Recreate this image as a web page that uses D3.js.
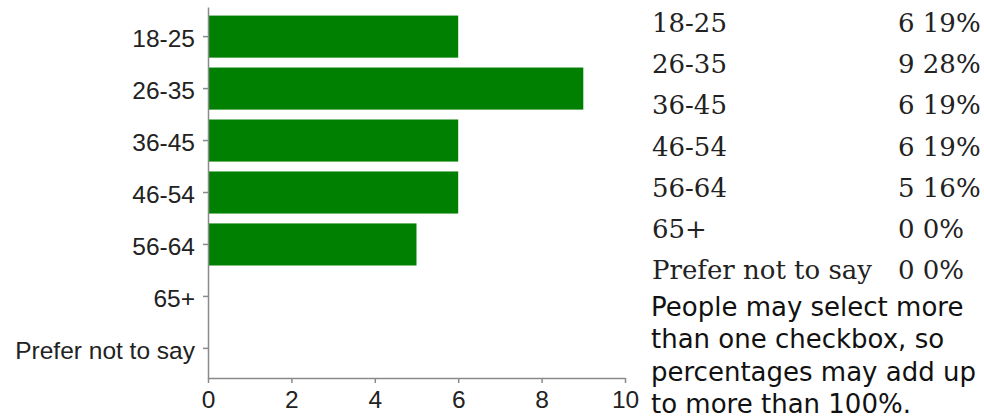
<!DOCTYPE html>
<html>
<head>
<meta charset="utf-8">
<script src="https://cdn.jsdelivr.net/npm/d3@7"></script>
<style>
  body { margin: 0; background: #fff; }
  svg { display: block; }
</style>
</head>
<body>
<svg id="chart" width="984" height="418"></svg>
<script>
const categories = ["18-25", "26-35", "36-45", "46-54", "56-64", "65+", "Prefer not to say"];
const counts = [6, 9, 6, 6, 5, 0, 0];
const percents = [19, 28, 19, 19, 16, 0, 0];
const xTicks = [0, 2, 4, 6, 8, 10];
const noteLines = ["People may select more", "than one checkbox, so", "percentages may add up", "to more than 100%."];

const svg = d3.select("#chart");

const x = d3.scaleLinear().domain([0, 10]).range([208, 625]);
const y = d3.scaleBand().domain(categories).range([7, 378])
  .paddingInner(0.19).paddingOuter(0.165);

// bars
svg.append("g").selectAll("rect")
  .data(categories)
  .join("rect")
  .attr("x", x(0))
  .attr("y", d => y(d))
  .attr("width", (d, i) => x(counts[i]) - x(0))
  .attr("height", y.bandwidth())
  .attr("fill", "#008000");

// axes
const yAxis = svg.append("g")
  .attr("transform", `translate(${x(0)},0)`)
  .call(d3.axisLeft(y).tickSize(5).tickSizeOuter(0).tickPadding(8));

const xAxis = svg.append("g")
  .attr("transform", `translate(0,378)`)
  .call(d3.axisBottom(x).tickValues(xTicks).tickSize(5).tickSizeOuter(0).tickPadding(8));

[yAxis, xAxis].forEach(g => {
  g.selectAll("path, line").attr("stroke", "#8a8a8a").attr("stroke-width", 1.5);
  g.selectAll("text")
    .attr("fill", "#222")
    .style("font-family", "'Liberation Sans', Arial, sans-serif")
    .style("font-size", "24.5px");
});
yAxis.selectAll("text").attr("dy", "0.42em");

// right-hand table
const rowY = d3.scaleLinear().domain([0, 6]).range([31.7, 279.3]);
const table = svg.append("g");

table.selectAll("text.cat")
  .data(categories)
  .join("text")
  .attr("class", "cat")
  .attr("x", 652)
  .attr("y", (d, i) => rowY(i))
  .text(d => d);

table.selectAll("text.val")
  .data(categories)
  .join("text")
  .attr("class", "val")
  .attr("x", 898)
  .attr("y", (d, i) => rowY(i))
  .text((d, i) => `${counts[i]} ${percents[i]}%`);

table.selectAll("text")
  .attr("fill", "#222")
  .style("font-family", "'DejaVu Serif', Georgia, serif")
  .style("font-size", "26px");

// note
svg.append("g").selectAll("text")
  .data(noteLines)
  .join("text")
  .attr("x", 651)
  .attr("y", (d, i) => 316 + i * 32.3)
  .attr("fill", "#111")
  .style("font-family", "'DejaVu Sans', Verdana, sans-serif")
  .style("font-size", "26px")
  .text(d => d);
</script>
</body>
</html>
